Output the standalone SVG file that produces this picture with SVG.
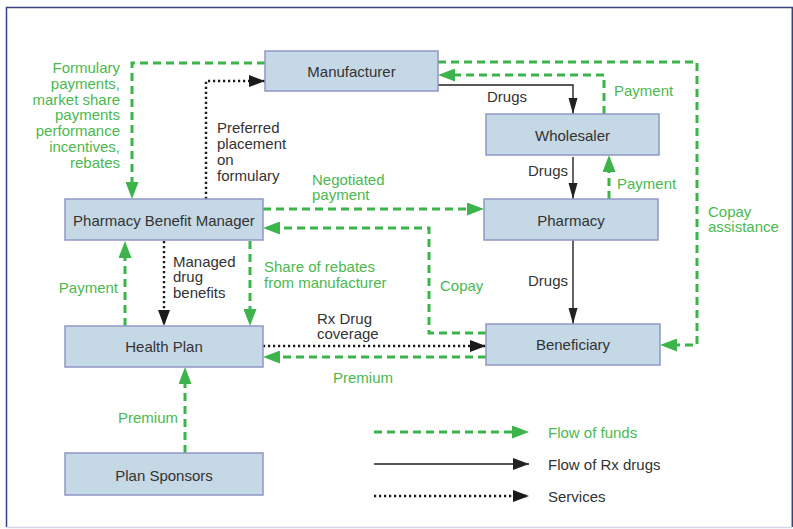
<svg xmlns="http://www.w3.org/2000/svg" width="793" height="529" viewBox="0 0 793 529">
<style>
.node rect{fill:#c5d8e5;stroke:#9196c4;stroke-width:1.5}
text{font-family:"Liberation Sans",Arial,sans-serif;font-size:15px}
.nt{fill:#333;text-anchor:middle}
.lb{fill:#333}
.lg{fill:#4cb850}
.r{text-anchor:end}
.fund{fill:none;stroke:#3cb44b;stroke-width:3;stroke-dasharray:8 5}
.drug{fill:none;stroke:#222;stroke-width:1.4}
.svc{fill:none;stroke:#1a1a1a;stroke-width:2.4;stroke-dasharray:2.2 2.8}
</style>
<defs>
<marker id="ag" markerUnits="userSpaceOnUse" markerWidth="17" markerHeight="13" refX="11" refY="6.5" orient="auto"><path d="M0,0 L17,6.5 L0,13 z" fill="#3cb44b"/></marker>
<marker id="ab" markerUnits="userSpaceOnUse" markerWidth="16" markerHeight="10" refX="16" refY="5" orient="auto"><path d="M0,0.5 L16,5 L0,9.5 z" fill="#222"/></marker>
<marker id="al" markerUnits="userSpaceOnUse" markerWidth="16" markerHeight="12" refX="16" refY="6" orient="auto"><path d="M0,0 L16,6 L0,12 z" fill="#222"/></marker>
<marker id="ad" markerUnits="userSpaceOnUse" markerWidth="16" markerHeight="12" refX="16" refY="6" orient="auto"><path d="M0,0 L16,6 L0,12 z" fill="#1a1a1a"/></marker>
</defs>
<rect x="0" y="0" width="793" height="529" fill="#fff"/>
<path d="M6.5,527 V7.5 H792.3 V527" fill="none" stroke="#3b4080" stroke-width="1.5"/>
<path d="M6.5,527.5 H792.3" fill="none" stroke="#d3d6ea" stroke-width="1.5"/>

<g id="connectors">
<path class="fund" d="M265,63 H132 V193" marker-end="url(#ag)"/>
<path class="svc" d="M206,199 V81 H265" marker-end="url(#ad)"/>
<path class="drug" d="M438,85 H573 V114" marker-end="url(#ab)"/>
<path class="fund" d="M604,114 V75 H444" marker-end="url(#ag)"/>
<path class="fund" d="M438,62 H697 V345 H666" marker-end="url(#ag)"/>
<path class="drug" d="M573,157 V199" marker-end="url(#ab)"/>
<path class="fund" d="M609,199 V161" marker-end="url(#ag)"/>
<path class="fund" d="M263,209 H478" marker-end="url(#ag)"/>
<path class="fund" d="M486,333 H429 V228 H269" marker-end="url(#ag)"/>
<path class="drug" d="M573,240 V324" marker-end="url(#ab)"/>
<path class="svc" d="M164,241 V326" marker-end="url(#ad)"/>
<path class="fund" d="M250,241 V320" marker-end="url(#ag)"/>
<path class="fund" d="M125,326 V247" marker-end="url(#ag)"/>
<path class="svc" d="M263,346 H486" marker-end="url(#ad)"/>
<path class="fund" d="M486,357 H269" marker-end="url(#ag)"/>
<path class="fund" d="M185,453 V373" marker-end="url(#ag)"/>
</g>

<g id="labels">
<text class="lg r" x="120" y="73">Formulary</text>
<text class="lg r" x="120" y="89">payments,</text>
<text class="lg r" x="120" y="105">market share</text>
<text class="lg r" x="120" y="120">payments</text>
<text class="lg r" x="120" y="136">performance</text>
<text class="lg r" x="120" y="152">incentives,</text>
<text class="lg r" x="120" y="168">rebates</text>
<text class="lb" x="217" y="133">Preferred</text>
<text class="lb" x="217" y="149">placement</text>
<text class="lb" x="217" y="165">on</text>
<text class="lb" x="217" y="181">formulary</text>
<text class="lg" x="312" y="185">Negotiated</text>
<text class="lg" x="312" y="200">payment</text>
<text class="lb" x="487" y="102">Drugs</text>
<text class="lg" x="614" y="95.5">Payment</text>
<text class="lb" x="528" y="176">Drugs</text>
<text class="lg" x="617" y="189">Payment</text>
<text class="lg" x="708" y="217">Copay</text>
<text class="lg" x="708" y="232">assistance</text>
<text class="lg" x="440" y="291">Copay</text>
<text class="lb" x="528" y="286">Drugs</text>
<text class="lb" x="173" y="267">Managed</text>
<text class="lb" x="173" y="282">drug</text>
<text class="lb" x="173" y="298">benefits</text>
<text class="lg" x="264" y="272">Share of rebates</text>
<text class="lg" x="264" y="288">from manufacturer</text>
<text class="lg r" x="118" y="293">Payment</text>
<text class="lb" x="317" y="324">Rx Drug</text>
<text class="lb" x="317" y="339">coverage</text>
<text class="lg" x="333" y="383">Premium</text>
<text class="lg r" x="178" y="423">Premium</text>
</g>

<g id="manufacturer" class="node"><rect x="265" y="51" width="173" height="40"/><text class="nt" x="351.5" y="76.5">Manufacturer</text></g>
<g id="wholesaler" class="node"><rect x="486" y="114" width="173" height="41"/><text class="nt" x="572.5" y="140.5">Wholesaler</text></g>
<g id="pharmacy" class="node"><rect x="484" y="199" width="174" height="41"/><text class="nt" x="571" y="225.5">Pharmacy</text></g>
<g id="pbm" class="node"><rect x="65" y="199" width="198" height="41"/><text class="nt" x="164" y="225.5">Pharmacy Benefit Manager</text></g>
<g id="healthplan" class="node"><rect x="65" y="326" width="198" height="41"/><text class="nt" x="164" y="352">Health Plan</text></g>
<g id="beneficiary" class="node"><rect x="486" y="324" width="174" height="41"/><text class="nt" x="573" y="350">Beneficiary</text></g>
<g id="plansponsors" class="node"><rect x="65" y="453" width="198" height="42"/><text class="nt" x="164" y="481">Plan Sponsors</text></g>

<g id="legend">
<path class="fund" d="M374,432 H523" marker-end="url(#ag)"/>
<path class="drug" d="M374,464 H529" marker-end="url(#al)"/>
<path class="svc" d="M374,496 H529" marker-end="url(#ad)"/>
<text class="lg" x="548" y="437.5">Flow of funds</text>
<text class="lb" x="548" y="469.5">Flow of Rx drugs</text>
<text class="lb" x="548" y="501.5">Services</text>
</g>
</svg>
